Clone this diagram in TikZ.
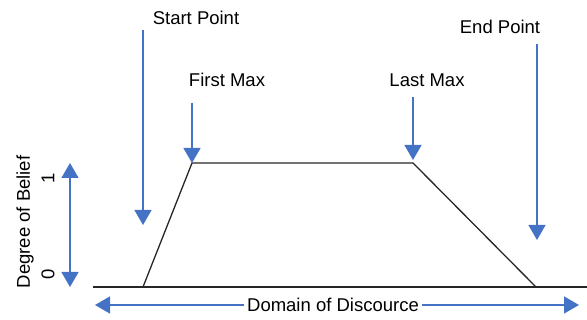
\documentclass[tikz,border=0pt]{standalone}
\usepackage{fontspec}
\setmainfont{Liberation Sans}
\usetikzlibrary{arrows.meta}
\definecolor{arrowblue}{HTML}{4472C4}
\tikzset{
  x=1pt, y=1pt,
  lbl/.style={font=\fontsize{18.5}{21}\selectfont, inner sep=0pt},
  barrow/.style={draw=arrowblue, line width=1.3pt, -{Triangle[width=17pt,length=15pt]}, fill=arrowblue},
  darrow/.style={draw=arrowblue, line width=1.3pt, {Triangle[width=17pt,length=15pt]}-{Triangle[width=17pt,length=15pt]}},
  curve/.style={draw=black!85, line width=1.3pt, line join=miter},
}
\begin{document}
\begin{tikzpicture}
\useasboundingbox (0,0) rectangle (587,320);
% baseline and trapezoid
\coordinate (b0) at (93,33);
\coordinate (b1) at (587,33);
\coordinate (s) at (143,33);
\coordinate (fm) at (192,157);
\coordinate (lm) at (413,157);
\coordinate (e) at (536,33);
\draw[curve] (b0) -- (b1);
\draw[curve] (s) -- (fm) -- (lm) -- (e);
% labels
\node[lbl] (sp) at (196,302) {Start Point};
\node[lbl] (fmx) at (227,240) {First Max};
\node[lbl] (lmx) at (427,240) {Last Max};
\node[lbl] (ep) at (500,293) {End Point};
% arrows
\coordinate (spt) at (143,95);
\coordinate (fmt) at (192,157);
\coordinate (lmt) at (413,160);
\coordinate (ept) at (537,80);
\draw[barrow] (143,290) -- (spt);
\draw[barrow] (192,217) -- (fmt);
\draw[barrow] (413,223) -- (lmt);
\draw[barrow] (537,276) -- (ept);
% vertical axis
\coordinate (v1) at (70,157);
\coordinate (v0) at (70,33);
\draw[darrow] (v0) -- (v1);
\node[lbl, rotate=90] (one) at (48,142) {1};
\node[lbl, rotate=90] (zero) at (48,46) {0};
\node[lbl, rotate=90] (dob) at (25,98) {Degree of Belief};
% domain
\node[lbl, inner xsep=3pt] (dom) at (333,15) {Domain of Discource};
\coordinate (d0) at (95,15);
\coordinate (d1) at (579,15);
\draw[barrow] (dom.west) -- (d0);
\draw[barrow] (dom.east) -- (d1);
\end{tikzpicture}
\end{document}
